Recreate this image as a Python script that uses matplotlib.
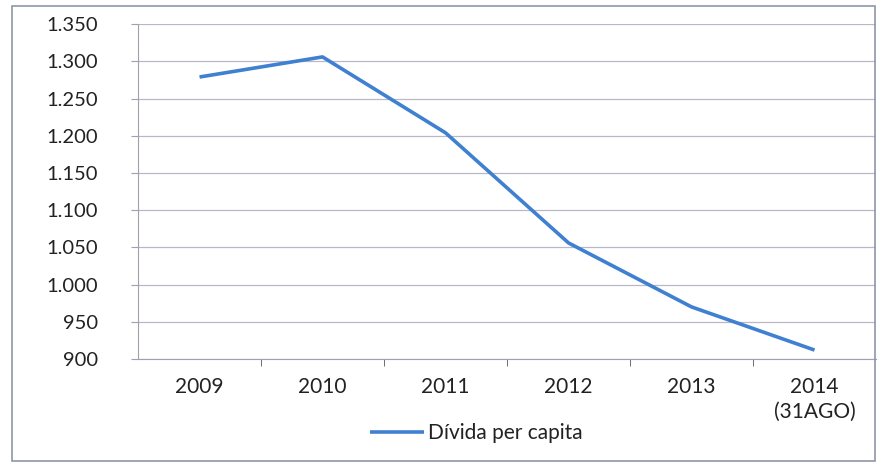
import matplotlib.pyplot as plt
from matplotlib.patches import Rectangle
from matplotlib.ticker import FuncFormatter

# Dados
anos = ['2009', '2010', '2011', '2012', '2013', '2014\n(31AGO)']
divida = [1279, 1306, 1204, 1056, 970, 912]
yticks = [900, 950, 1000, 1050, 1100, 1150, 1200, 1250, 1300, 1350]

plt.rcParams['font.family'] = ['Lato', 'DejaVu Sans']

fig = plt.figure(figsize=(8.82, 4.65), dpi=100)
ax = fig.add_axes([0.1565, 0.228, 0.8367, 0.72])

x = list(range(len(anos)))
ax.plot(x, divida, color='#3f80d0', linewidth=2.6, label='Dívida per capita',
        solid_capstyle='butt')

ax.set_xlim(-0.5, len(anos) - 0.5)
ax.set_ylim(900, 1350)
ax.set_yticks(yticks)
ax.yaxis.set_major_formatter(FuncFormatter(lambda v, p: f'{int(v):,}'.replace(',', '.')))
ax.set_xticks(x)
ax.set_xticklabels(anos, color='#222222', fontsize=15, linespacing=1.3)
ax.set_xticks([i + 0.5 for i in x[:-1]], minor=True)
ax.tick_params(axis='x', which='major', length=0, pad=13)
ax.tick_params(axis='x', which='minor', length=5, color='#555555', direction='out')
ax.tick_params(axis='y', length=5, color='#a0a0b0', pad=24, labelsize=14.5, labelcolor='#222222')

ax.grid(axis='y', color='#b8b8c8', linewidth=0.9)
ax.set_axisbelow(True)
for s in ['top', 'right']:
    ax.spines[s].set_visible(False)
ax.spines['left'].set_color('#a0a0b0')
ax.spines['bottom'].set_color('#a0a0b0')

leg = fig.legend(loc='center', bbox_to_anchor=(0.54, 0.069), frameon=False,
                 fontsize=15, handlelength=2.6, handletextpad=0.2)
for t in leg.get_texts():
    t.set_color('#222222')

# moldura externa
fig.patches.append(Rectangle((0.014, 0.008), 0.978, 0.98, transform=fig.transFigure,
                             fill=False, edgecolor='#8d97a8', linewidth=1.2))

fig.savefig('out.png', dpi=100)
